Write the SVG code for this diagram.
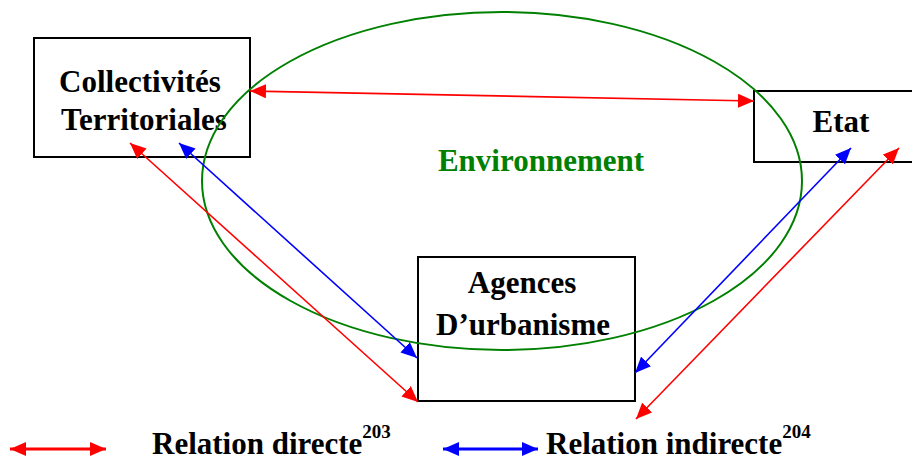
<svg xmlns="http://www.w3.org/2000/svg" width="912" height="457" viewBox="0 0 912 457">
<defs>
<marker id="ar" markerUnits="userSpaceOnUse" markerWidth="18" markerHeight="14" refX="16" refY="7" orient="auto-start-reverse" viewBox="0 0 18 14">
<path d="M0,0 L16,7 L0,14 Z" fill="#ff0000"/>
</marker>
<marker id="ab" markerUnits="userSpaceOnUse" markerWidth="18" markerHeight="14" refX="16" refY="7" orient="auto-start-reverse" viewBox="0 0 18 14">
<path d="M0,0 L16,7 L0,14 Z" fill="#0000ff"/>
</marker>
</defs>
<rect width="912" height="457" fill="#fff"/>
<g id="collectivites">
<rect x="34" y="38" width="216" height="119" fill="#fff" stroke="#000" stroke-width="2"/>
<text x="140" y="92" font-family="Times New Roman, Liberation Serif, serif" font-weight="bold" font-size="31" text-anchor="middle">Collectivités</text>
<text x="144" y="130" font-family="Times New Roman, Liberation Serif, serif" font-weight="bold" font-size="31" text-anchor="middle">Territoriales</text>
</g>
<g id="etat">
<rect x="754" y="91" width="170" height="71" fill="#fff" stroke="#000" stroke-width="2"/>
<text x="841" y="132" font-family="Times New Roman, Liberation Serif, serif" font-weight="bold" font-size="31" text-anchor="middle">Etat</text>
</g>
<g id="agences">
<rect x="418" y="257" width="217" height="144" fill="#fff" stroke="#000" stroke-width="2"/>
<text x="522" y="293" font-family="Times New Roman, Liberation Serif, serif" font-weight="bold" font-size="31" text-anchor="middle">Agences</text>
<text x="523" y="335" font-family="Times New Roman, Liberation Serif, serif" font-weight="bold" font-size="31" text-anchor="middle">D’urbanisme</text>
</g>
<g id="environnement">
<ellipse cx="502" cy="181" rx="300" ry="169" fill="none" stroke="#008000" stroke-width="2"/>
<text x="541" y="171" fill="#008000" font-family="Times New Roman, Liberation Serif, serif" font-weight="bold" font-size="31" text-anchor="middle">Environnement</text>
</g>
<g id="connectors" fill="none" stroke-width="1.6">
<line stroke="#ff0000" x1="250" y1="91" x2="754" y2="101" marker-start="url(#ar)" marker-end="url(#ar)"/>
<line stroke="#ff0000" x1="130" y1="143" x2="418" y2="402" marker-start="url(#ar)" marker-end="url(#ar)"/>
<line stroke="#0000ff" x1="179" y1="143" x2="417" y2="358" marker-start="url(#ab)" marker-end="url(#ab)"/>
<line stroke="#0000ff" x1="851" y1="148" x2="635" y2="373" marker-start="url(#ab)" marker-end="url(#ab)"/>
<line stroke="#ff0000" x1="899" y1="148" x2="636" y2="419" marker-start="url(#ar)" marker-end="url(#ar)"/>
</g>
<g id="legend">
<line x1="10" y1="449" x2="106" y2="449" stroke="#ff0000" stroke-width="3" marker-start="url(#ar)" marker-end="url(#ar)"/>
<text x="152" y="454" font-family="Times New Roman, Liberation Serif, serif" font-weight="bold" font-size="31">Relation directe<tspan font-size="19" dy="-16">203</tspan></text>
<line x1="443" y1="449" x2="538" y2="449" stroke="#0000ff" stroke-width="3" marker-start="url(#ab)" marker-end="url(#ab)"/>
<text x="546" y="454" font-family="Times New Roman, Liberation Serif, serif" font-weight="bold" font-size="31">Relation indirecte<tspan font-size="19" dy="-16">204</tspan></text>
</g>
</svg>
